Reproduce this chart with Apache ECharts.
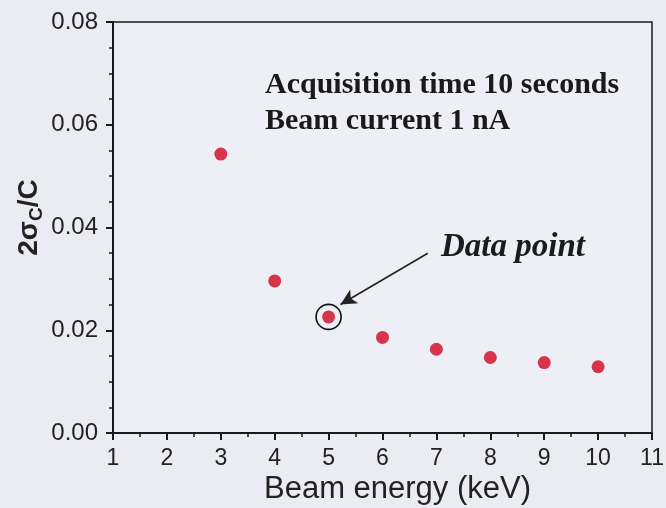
<!DOCTYPE html>
<html><head><meta charset="utf-8">
<script src="https://cdn.jsdelivr.net/npm/echarts@6/dist/echarts.min.js"></script>
<style>html,body{margin:0;padding:0;background:#ebebf4;}#c{width:666px;height:508px;}</style>
</head><body><div id="c"></div>
<script>
const beamEnergy = [3, 4, 5, 6, 7, 8, 9, 10];
const relPrecision = [0.0543, 0.0296, 0.0226, 0.0186, 0.0163, 0.0147, 0.0137, 0.0129];
const xTicks = [1, 2, 3, 4, 5, 6, 7, 8, 9, 10, 11];
const yTicks = [0.00, 0.02, 0.04, 0.06, 0.08];
const highlighted = [5, 0.0226];
const arrowFrom = [6.84, 0.0350];
const arrowTo = [5.22, 0.0250];

const chart = echarts.init(document.getElementById('c'));
const axisCol = '#1a1a1a';
chart.setOption({
  backgroundColor: '#ebebf4',
  animation: false,
  grid: {left: 113, right: 14, top: 22, bottom: 75, containLabel: false, outerBoundsMode: 'none', show: true, borderColor: axisCol, borderWidth: 1.5, backgroundColor: '#eeeef7'},
  xAxis: {
    type: 'value', min: xTicks[0], max: xTicks[xTicks.length-1], interval: 1,
    name: 'Beam energy (keV)', nameLocation: 'middle', nameGap: 41, nameMoveOverlap: false,
    nameTextStyle: {fontFamily: 'Liberation Sans, Arial', fontSize: 31, color: '#222', padding: [0, 0, 0, 30], verticalAlign: 'top'},
    axisLine: {lineStyle: {color: axisCol, width: 2}},
    axisTick: {inside: false, length: 7, lineStyle: {color: axisCol, width: 2}},
    minorTick: {show: true, splitNumber: 2, length: 4, lineStyle: {color: axisCol, width: 1.5}},
    axisLabel: {fontFamily: 'Liberation Sans, Arial', fontSize: 23, color: '#222', margin: 14},
    splitLine: {show: false}
  },
  yAxis: {
    type: 'value', min: yTicks[0], max: yTicks[yTicks.length-1], interval: 0.02,
    name: '{a|2σ}{s|C}{n|/C}', nameLocation: 'middle', nameGap: 67, nameRotate: 90, nameMoveOverlap: false,
    nameTextStyle: {rich: {
      a: {fontFamily: 'Liberation Sans, Arial', fontSize: 28, fontWeight: 'bold', color: '#222', padding: [0, 0, 0, 20]},
      n: {fontFamily: 'Liberation Sans, Arial', fontSize: 28, fontWeight: 'bold', color: '#222'},
      s: {fontFamily: 'Liberation Sans, Arial', fontSize: 19, fontWeight: 'bold', color: '#222', padding: [14, 0, 0, 0]}
    }},
    axisLine: {lineStyle: {color: axisCol, width: 2}},
    axisTick: {inside: false, length: 7, lineStyle: {color: axisCol, width: 2}},
    minorTick: {show: true, splitNumber: 4, length: 4, lineStyle: {color: axisCol, width: 1.5}},
    axisLabel: {fontFamily: 'Liberation Sans, Arial', fontSize: 24, color: '#222', margin: 15, formatter: v => v.toFixed(2)},
    splitLine: {show: false}
  },
  graphic: [
    {type: 'text', left: 265, top: 67, style: {text: 'Acquisition time 10 seconds\nBeam current 1 nA', font: 'bold 30px "Liberation Serif", "Times New Roman"', fill: '#1a1a1a', lineHeight: 36}},
    {type: 'text', left: 441, top: 231, style: {text: 'Data point', font: 'italic bold 33px "Liberation Serif", "Times New Roman"', fill: '#1a1a22', shadowColor: 'rgba(120,40,60,0.5)', shadowOffsetX: 1.5, shadowOffsetY: 1.5, shadowBlur: 1}}
  ],
  series: [{
    type: 'scatter',
    data: beamEnergy.map((x, i) => [x, relPrecision[i]]),
    symbol: 'circle', symbolSize: 13,
    itemStyle: {color: '#d6344a', opacity: 1},
    markPoint: {
      symbol: 'circle', symbolSize: 25, silent: true,
      itemStyle: {color: 'rgba(0,0,0,0)', borderColor: '#111', borderWidth: 1.6},
      label: {show: false},
      data: [{coord: highlighted}]
    },
    markLine: {
      silent: true, symbol: ['none', 'arrow'], symbolSize: [12, 16],
      lineStyle: {color: '#222', width: 1.6, type: 'solid'},
      label: {show: false},
      data: [[{coord: arrowFrom}, {coord: arrowTo}]]
    }
  }]
});
</script></body></html>
